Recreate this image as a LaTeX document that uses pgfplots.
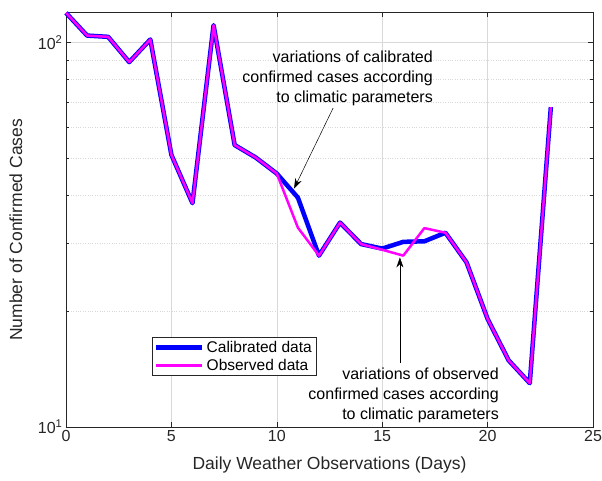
\documentclass[border=0pt]{standalone}
\usepackage{fontspec}
\setmainfont{Liberation Sans}
\usepackage{pgfplots}
\pgfplotsset{compat=1.18}
\usetikzlibrary{calc,arrows.meta}
\definecolor{mblue}{rgb}{0,0,1}
\definecolor{mmag}{rgb}{1,0,1}
\definecolor{axgray}{rgb}{0.15,0.15,0.15}
\definecolor{gridgray}{rgb}{0.85,0.85,0.85}

\begin{document}
\begin{tikzpicture}
\begin{axis}[
  width=527pt, height=415pt, scale only axis,
  xmin=0, xmax=25,
  ymode=log, ymin=10, ymax=120,
  xtick={0,5,10,15,20,25},
  ytick={10,100}, yticklabels={10\textsuperscript{1},10\textsuperscript{2}},
  /pgf/number format/assume math mode=true,
  tick align=inside,
  major tick length=5pt, minor tick length=3pt,
  tick label style={font=\fontsize{16}{19}\selectfont, text=axgray},
  xlabel={Daily Weather Observations (Days)},
  ylabel={Number of Confirmed Cases},
  xlabel style={at={(axis description cs:0.5,-0.0916)}, anchor=center,
    font=\fontsize{17.5}{21}\selectfont, text=axgray},
  ylabel style={at={(axis description cs:-0.095,0.475)}, rotate=0, anchor=center,
    font=\fontsize{17.5}{21}\selectfont, text=axgray},
  axis line style={axgray, line width=0.6pt},
  every tick/.style={axgray, line width=0.6pt},
  xmajorgrids, ymajorgrids, yminorgrids,
  major grid style={gridgray, line width=0.5pt},
  minor grid style={gridgray, dotted, line width=0.6pt},
  clip=false,
  legend style={at={(0.163,0.217)}, anchor=north west,
    font=\fontsize{15.5}{18}\selectfont, draw=axgray, line width=0.6pt,
    inner sep=2pt, row sep=1pt},
  legend cell align={left},
  legend image code/.code={\draw[#1] (0pt,0pt) -- (46pt,0pt);},
]
\addplot[mblue, line width=4.5pt, line join=round] coordinates {
  (0,119.4) (1,104.2) (2,103.4) (3,88.9) (4,101.8) (5,51.0) (6,38.2)
  (7,110.9) (8,54.1) (9,50.2) (10,45.6) (11,39.5) (12,27.9) (13,34.0)
  (14,29.9) (15,29.1) (16,30.3) (17,30.4) (18,32.0) (19,26.8) (20,19.1)
  (21,14.9) (22,13.0) (23,67.9)
};
\addlegendentry{Calibrated data}
\addplot[mmag, line width=2.5pt, line join=round] coordinates {
  (0,119.4) (1,104.2) (2,103.4) (3,88.9) (4,101.8) (5,51.0) (6,38.2)
  (7,110.9) (8,54.1) (9,50.2) (10,45.6) (11,33.0) (12,27.9) (13,34.0)
  (14,29.9) (15,28.9) (16,27.9) (17,32.9) (18,32.0) (19,26.8) (20,19.1)
  (21,14.9) (22,13.0) (23,67.9)
};
\addlegendentry{Observed data}

\node[anchor=east, align=right, font=\fontsize{16}{20}\selectfont, inner sep=0pt]
  at (axis cs:17.41,80.8) {variations of calibrated\\confirmed cases according\\to climatic parameters};
\draw[-{Stealth[length=10pt,width=7pt]}, line width=0.5pt] (axis cs:12.67,67.5) -- (axis cs:10.82,41.7);
\node[anchor=east, align=right, font=\fontsize{16}{20}\selectfont, inner sep=0pt]
  at (axis cs:20.54,12.05) {variations of observed\\confirmed cases according\\to climatic parameters};
\draw[-{Stealth[length=10pt,width=7pt]}, line width=0.5pt] (axis cs:15.84,14.66) -- (axis cs:15.84,27.6);
\end{axis}
\pgfresetboundingbox
\path ($(current axis.south west)+(-66pt,-54pt)$) rectangle ($(current axis.north east)+(9pt,12pt)$);
\end{tikzpicture}
\end{document}
